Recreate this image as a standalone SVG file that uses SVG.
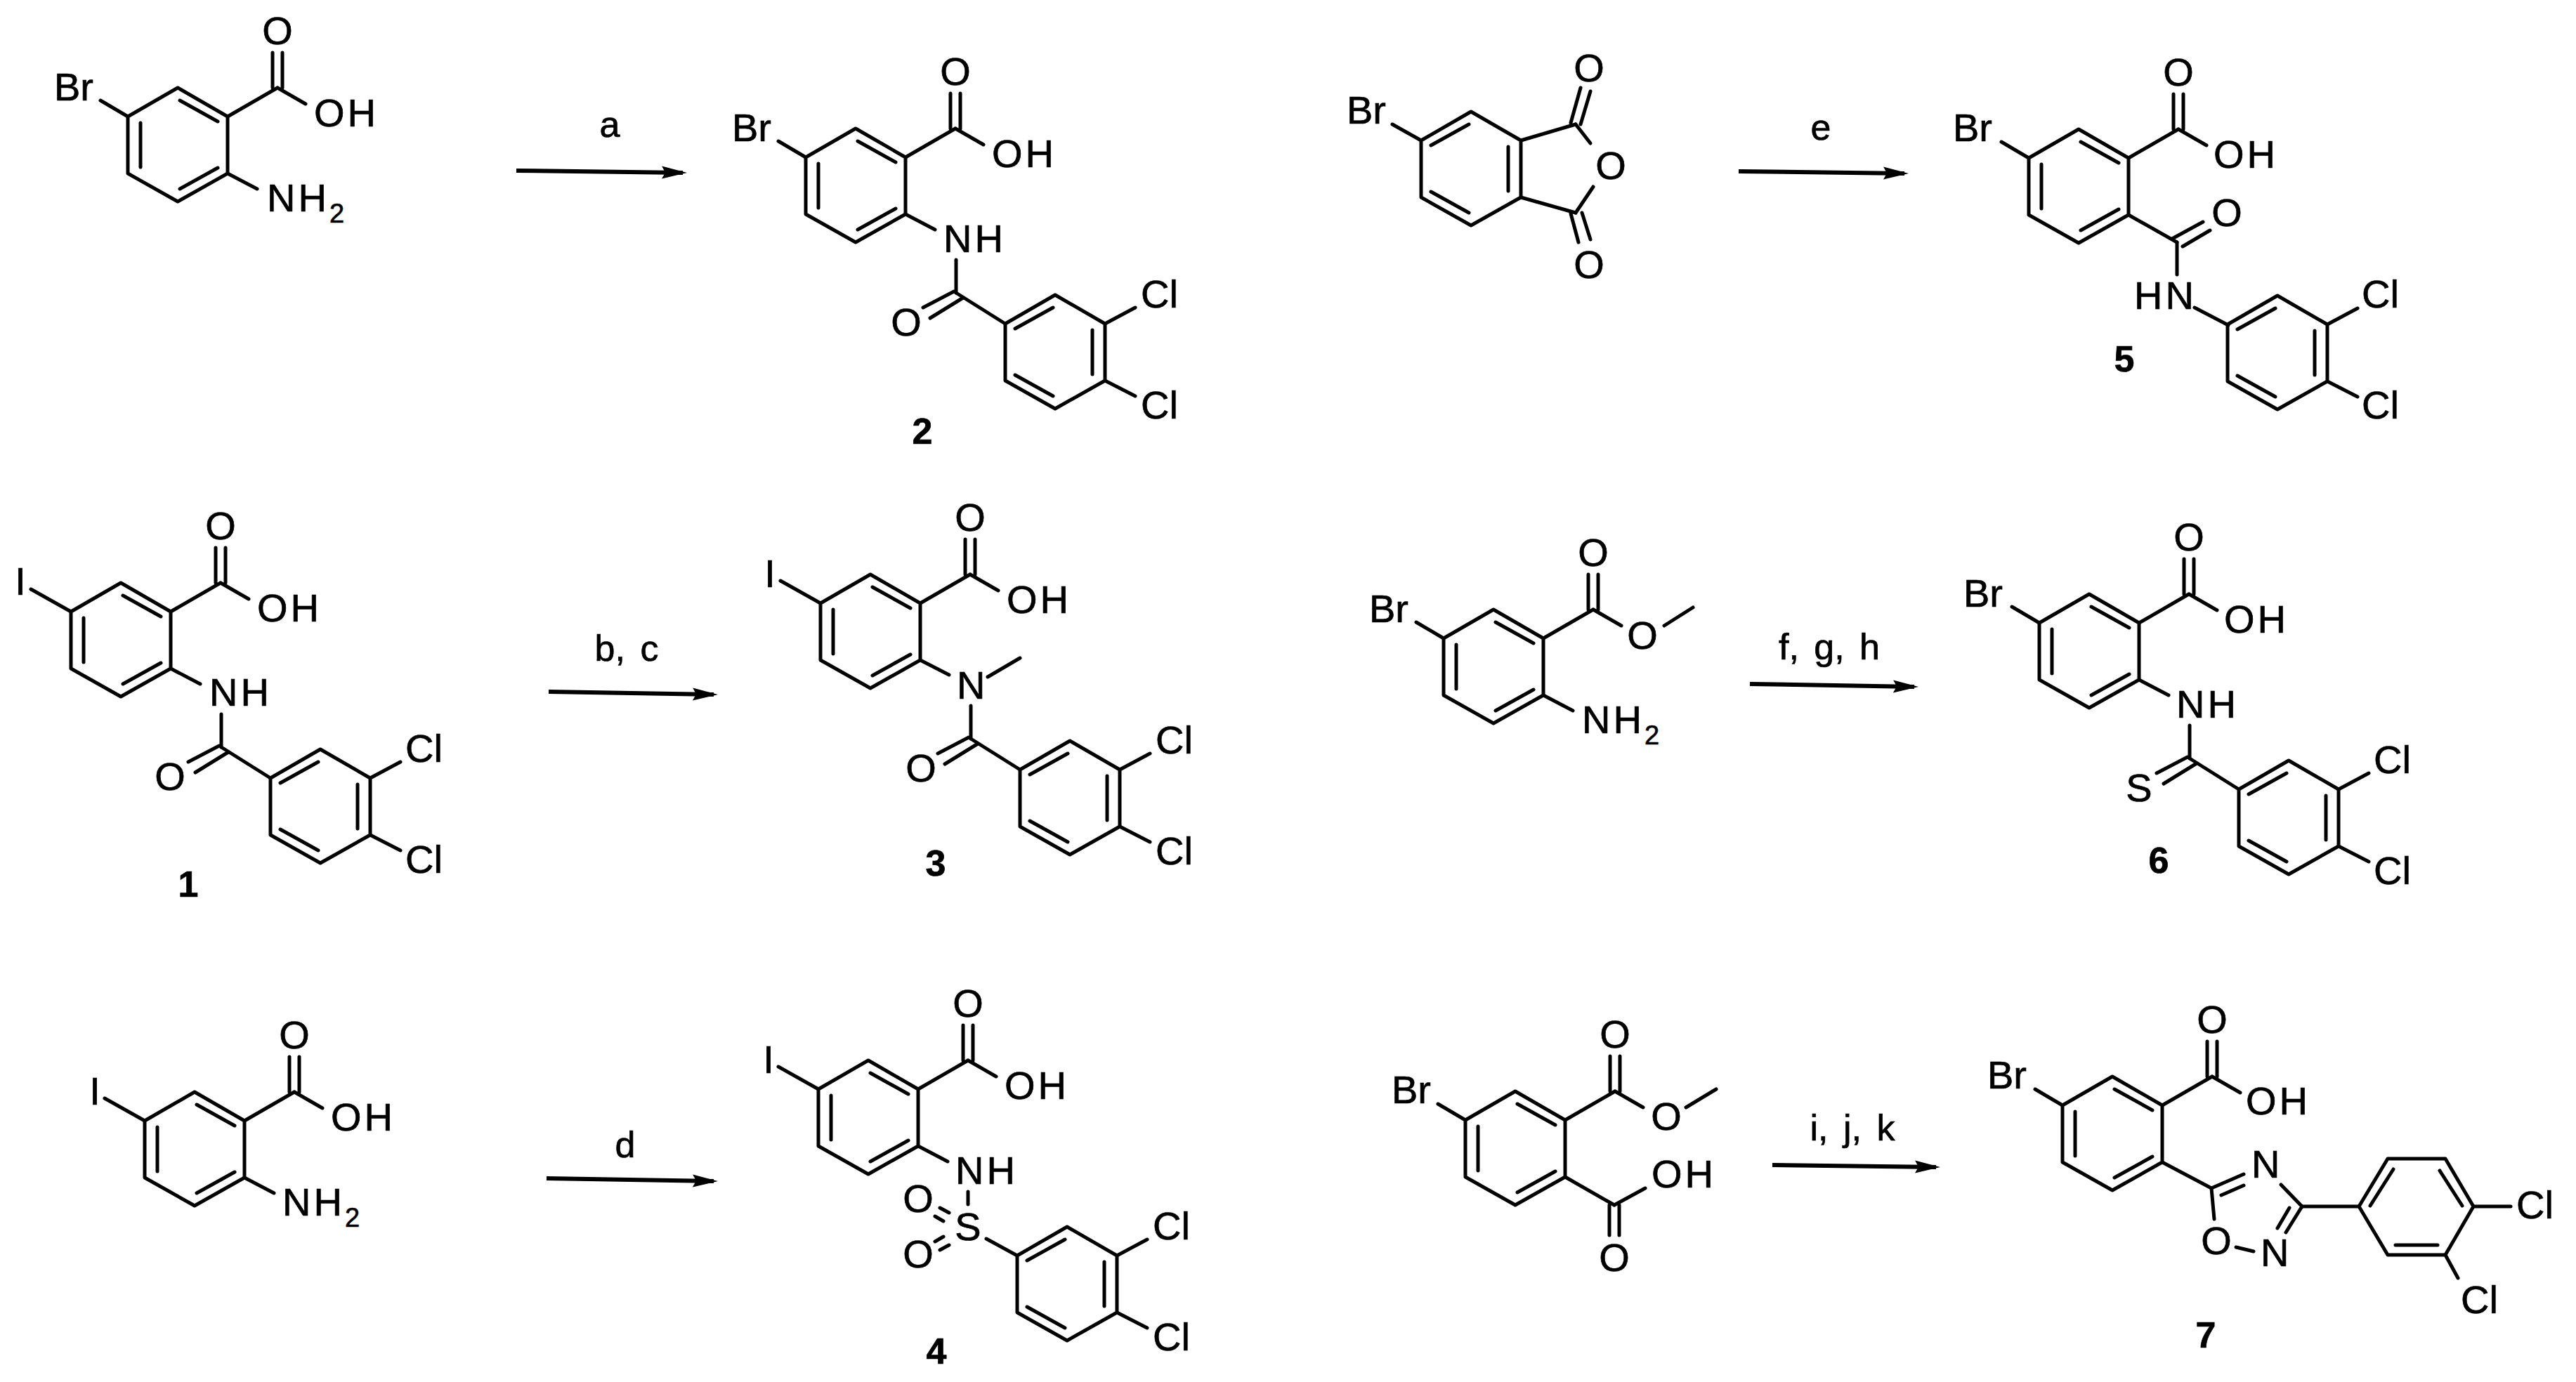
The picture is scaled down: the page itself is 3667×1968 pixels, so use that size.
<svg xmlns="http://www.w3.org/2000/svg" width="3667" height="1968" viewBox="0 0 3667 1968">
<style>
line,polygon.r{stroke:#000;stroke-width:5;fill:none;stroke-linecap:round;stroke-linejoin:round}
text{font-family:"Liberation Sans",Arial,sans-serif;font-size:56px;fill:#000;stroke:#000;stroke-width:.7px}
.m{text-anchor:middle}
.s{letter-spacing:4px}
.lb{font-weight:bold;font-size:52px;text-anchor:middle}
.rg{font-size:52px;text-anchor:middle;word-spacing:7px}
.arr{stroke-width:6;stroke-linecap:butt;marker-end:url(#head)}
</style>
<defs>
<marker id="head" markerUnits="userSpaceOnUse" markerWidth="36" markerHeight="20" viewBox="0 0 36 20" refX="30" refY="10" orient="auto"><path d="M0,1 L36,10 L0,19 L5,10 Z" fill="#000"/></marker>
<g id="ringA"><polygon class="r" points="0,-81 71,-40 71,41 0,81 -71,41 -71,-40"/><line x1="3" y1="-63" x2="57" y2="-33"/><line x1="-53" y1="-31" x2="-53" y2="32"/><line x1="3" y1="63" x2="57" y2="33"/></g>
<g id="ringB"><polygon class="r" points="0,-81 71,-40 71,41 0,81 -71,41 -71,-40"/><line x1="-3" y1="-63" x2="-57" y2="-33"/><line x1="53" y1="-31" x2="53" y2="32"/><line x1="-3" y1="63" x2="-57" y2="33"/></g>
<g id="carboxyl"><use href="#ringA"/><line x1="71" y1="-40" x2="142" y2="-81"/><line x1="135" y1="-81" x2="135" y2="-131"/><line x1="149" y1="-81" x2="149" y2="-131"/></g>
<g id="acid"><use href="#carboxyl"/><line x1="142" y1="-81" x2="182" y2="-58"/></g>
<g id="clring"><use href="#ringB"/><line x1="71" y1="-40" x2="114" y2="-63"/><line x1="71" y1="41" x2="114" y2="63"/></g>
<g id="amide"><line x1="143" y1="106" x2="143" y2="153"/><line x1="140" y1="151" x2="96" y2="174"/><line x1="153" y1="160" x2="106" y2="189"/><line x1="143" y1="153" x2="213" y2="197"/><use href="#clring" x="284" y="237"/></g>
</defs>
<rect width="3667" height="1968" fill="#fff"/>

<g id="connectors">
<line class="arr" x1="735" y1="243" x2="972" y2="246"/>
<line class="arr" x1="781" y1="985" x2="1016" y2="989"/>
<line class="arr" x1="778" y1="1678" x2="1016" y2="1682"/>
<line class="arr" x1="2475" y1="244" x2="2711" y2="247"/>
<line class="arr" x1="2491" y1="974" x2="2725" y2="978"/>
<line class="arr" x1="2523" y1="1659" x2="2756" y2="1662"/>
</g>

<g id="reagents">
<text class="rg" x="868" y="195">a</text>
<text class="rg" x="892" y="941">b, c</text>
<text class="rg" x="890" y="1648">d</text>
<text class="rg" x="2592" y="199">e</text>
<text class="rg" x="2604" y="939">f, g, h</text>
<text class="rg" x="2637" y="1624">i, j, k</text>
</g>

<g id="sm-a" transform="translate(253,206)">
<use href="#acid"/>
<line x1="-71" y1="-40" x2="-110" y2="-63"/><line x1="71" y1="41" x2="113" y2="63"/>
<text x="-176" y="-63">Br</text><text class="m" x="142" y="-143">O</text><text class="s" x="194" y="-26">OH</text>
<text class="s" x="127" y="95">NH<tspan font-size="38" dy="16">2</tspan></text>
</g>

<g id="cpd-2" transform="translate(1218,264)">
<use href="#acid"/><use href="#amide"/>
<line x1="-71" y1="-40" x2="-110" y2="-63"/><line x1="71" y1="41" x2="113" y2="63"/>
<text x="-176" y="-63">Br</text><text class="m" x="142" y="-143">O</text><text class="s" x="194" y="-26">OH</text>
<text class="s" x="125" y="95">NH</text><text class="m" x="72" y="214">O</text>
<text x="406" y="174">Cl</text><text x="406" y="332">Cl</text>
<text class="lb" x="95" y="368">2</text>
</g>

<g id="sm-e">
<use href="#ringB" x="2094" y="240"/>
<line x1="2023" y1="200" x2="1982" y2="177"/>
<line x1="2165" y1="200" x2="2243" y2="177"/><line x1="2165" y1="281" x2="2243" y2="303"/>
<line x1="2236" y1="175" x2="2250" y2="125"/><line x1="2250" y1="177" x2="2264" y2="130"/>
<line x1="2236" y1="304" x2="2247" y2="345"/><line x1="2252" y1="303" x2="2264" y2="341"/>
<line x1="2243" y1="177" x2="2264" y2="204"/><line x1="2243" y1="303" x2="2268" y2="266"/>
<text x="1917" y="176">Br</text><text class="m" x="2262" y="116">O</text><text class="m" x="2293" y="255">O</text><text class="m" x="2262" y="396">O</text>
</g>

<g id="cpd-5" transform="translate(2959,265)">
<use href="#acid"/>
<line x1="-71" y1="-40" x2="-110" y2="-63"/>
<line x1="71" y1="41" x2="140" y2="80"/><line x1="133" y1="75" x2="177" y2="51"/><line x1="148" y1="86" x2="187" y2="63"/>
<line x1="140" y1="80" x2="140" y2="126"/><line x1="165" y1="173" x2="213" y2="198"/>
<use href="#clring" x="283" y="237"/>
<text x="-179" y="-64">Br</text><text class="m" x="142" y="-143">O</text><text class="s" x="192" y="-26">OH</text>
<text class="m" x="211" y="57">O</text><text class="s" x="79" y="175">HN</text>
<text x="403" y="173">Cl</text><text x="403" y="331">Cl</text>
<text class="lb" x="65" y="264">5</text>
</g>

<g id="cpd-1" transform="translate(172,911)">
<use href="#acid"/><use href="#amide"/>
<line x1="-71" y1="-40" x2="-128" y2="-72"/><line x1="71" y1="41" x2="113" y2="63"/>
<text class="m" x="-143" y="-64">I</text><text class="m" x="142" y="-143">O</text><text class="s" x="194" y="-26">OH</text>
<text class="s" x="126" y="94">NH</text><text class="m" x="70" y="214">O</text>
<text x="405" y="174">Cl</text><text x="405" y="332">Cl</text>
<text class="lb" x="96" y="366">1</text>
</g>

<g id="cpd-3" transform="translate(1239,899)">
<use href="#acid"/><use href="#amide"/>
<line x1="-71" y1="-40" x2="-128" y2="-72"/><line x1="71" y1="41" x2="112" y2="62"/>
<line x1="167" y1="65" x2="213" y2="38"/>
<text class="m" x="-143" y="-63">I</text><text class="m" x="142" y="-143">O</text><text class="s" x="194" y="-26">OH</text>
<text x="123" y="96">N</text><text class="m" x="72" y="214">O</text>
<text x="406" y="174">Cl</text><text x="406" y="332">Cl</text>
<text class="lb" x="93" y="348">3</text>
</g>

<g id="sm-fgh" transform="translate(2126,949)">
<use href="#carboxyl"/>
<line x1="142" y1="-81" x2="182" y2="-58"/>
<line x1="-71" y1="-40" x2="-110" y2="-63"/><line x1="71" y1="41" x2="113" y2="63"/>
<line x1="243" y1="-58" x2="284" y2="-84"/>
<text x="-177" y="-63">Br</text><text class="m" x="142" y="-143">O</text><text class="m" x="212" y="-25">O</text>
<text class="s" x="126" y="95">NH<tspan font-size="38" dy="16">2</tspan></text>
</g>

<g id="cpd-6" transform="translate(2974,927)">
<use href="#acid"/><use href="#amide"/>
<line x1="-71" y1="-40" x2="-110" y2="-63"/><line x1="71" y1="41" x2="113" y2="63"/>
<text x="-179" y="-63">Br</text><text class="m" x="142" y="-143">O</text><text class="s" x="192" y="-26">OH</text>
<text class="s" x="124" y="95">NH</text><text class="m" x="71" y="214">S</text>
<text x="405" y="174">Cl</text><text x="405" y="332">Cl</text>
<text class="lb" x="99" y="316">6</text>
</g>

<g id="sm-d" transform="translate(277,1636)">
<use href="#acid"/>
<line x1="-71" y1="-40" x2="-128" y2="-72"/><line x1="71" y1="41" x2="113" y2="63"/>
<text class="m" x="-142" y="-63">I</text><text class="m" x="142" y="-143">O</text><text class="s" x="194" y="-26">OH</text>
<text class="s" x="125" y="95">NH<tspan font-size="38" dy="16">2</tspan></text>
</g>

<g id="cpd-4" transform="translate(1236,1591)">
<use href="#acid"/>
<line x1="-71" y1="-40" x2="-128" y2="-72"/><line x1="71" y1="41" x2="113" y2="63"/>
<line x1="142" y1="106" x2="142" y2="124"/>
<line x1="102" y1="129" x2="115" y2="136"/><line x1="95" y1="141" x2="107" y2="148"/>
<line x1="95" y1="177" x2="107" y2="170"/><line x1="102" y1="189" x2="115" y2="182"/>
<line x1="168" y1="173" x2="212" y2="197"/>
<use href="#clring" x="283" y="237"/>
<text class="m" x="-142" y="-63">I</text><text class="m" x="142" y="-143">O</text><text class="s" x="194" y="-26">OH</text>
<text class="s" x="124" y="95">NH</text><text class="m" x="142" y="175">S</text>
<text class="m" x="71" y="135">O</text><text class="m" x="71" y="214">O</text>
<text x="405" y="174">Cl</text><text x="405" y="332">Cl</text>
<text class="lb" x="97" y="351">4</text>
</g>

<g id="sm-ijk" transform="translate(2157,1635)">
<use href="#carboxyl"/>
<line x1="142" y1="-81" x2="182" y2="-58"/>
<line x1="-71" y1="-40" x2="-110" y2="-63"/>
<line x1="243" y1="-58" x2="286" y2="-84"/>
<line x1="71" y1="41" x2="141" y2="81"/><line x1="141" y1="81" x2="185" y2="57"/>
<line x1="134" y1="81" x2="134" y2="124"/><line x1="148" y1="81" x2="148" y2="124"/>
<text x="-176" y="-64">Br</text><text class="m" x="142" y="-143">O</text><text class="m" x="215" y="-26">O</text>
<text class="s" x="194" y="56">OH</text><text class="m" x="141" y="175">O</text>
</g>

<g id="cpd-7">
<use href="#acid" x="3007" y="1614"/>
<line x1="2936" y1="1574" x2="2897" y2="1551"/>
<line x1="3078" y1="1655" x2="3148" y2="1692"/>
<line x1="3148" y1="1692" x2="3194" y2="1672"/><line x1="3162" y1="1702" x2="3194" y2="1688"/>
<line x1="3148" y1="1692" x2="3152" y2="1736"/>
<line x1="3183" y1="1776" x2="3208" y2="1782"/>
<line x1="3247" y1="1687" x2="3277" y2="1718"/>
<line x1="3277" y1="1718" x2="3254" y2="1755"/><line x1="3259" y1="1720" x2="3242" y2="1749"/>
<line x1="3277" y1="1718" x2="3358" y2="1718"/>
<polygon class="r" points="3358,1718 3399,1650 3481,1650 3521,1718 3481,1787 3399,1787"/>
<line x1="3374" y1="1717" x2="3407" y2="1665"/><line x1="3473" y1="1667" x2="3505" y2="1717"/><line x1="3410" y1="1773" x2="3470" y2="1773"/>
<line x1="3521" y1="1718" x2="3574" y2="1718"/><line x1="3481" y1="1787" x2="3499" y2="1820"/>
<text x="2829" y="1550">Br</text><text class="m" x="3149" y="1471">O</text><text class="s" x="3197" y="1587">OH</text>
<text x="3205" y="1677">N</text><text class="m" x="3155" y="1786">O</text><text x="3218" y="1803">N</text>
<text x="3582" y="1735">Cl</text><text x="3503" y="1870">Cl</text>
<text class="lb" x="3140" y="1919">7</text>
</g>
</svg>
